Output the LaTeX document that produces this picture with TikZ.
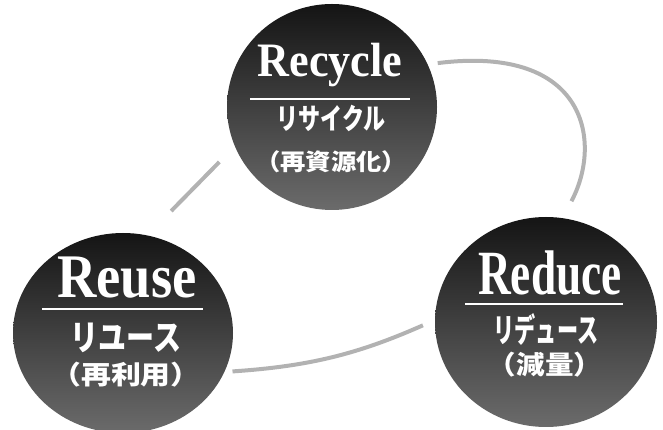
\documentclass[tikz,border=0pt]{standalone}
\usepackage{fontspec}
\setmainfont{Liberation Serif}
\newfontfamily\jpfont{Noto Sans CJK JP}
\usetikzlibrary{shapes.geometric}
\tikzstyle{ball} = [ellipse, draw=none, inner sep=0pt,
    top color=black!92, bottom color=black!58]
\tikzstyle{enword} = [text=white, inner sep=0pt, anchor=base]
\tikzstyle{jpword} = [text=white, inner sep=0pt, anchor=base, font=\jpfont\bfseries]
\tikzstyle{underbar} = [white, line width=1.6pt]
\tikzstyle{link} = [line width=4pt, draw=black!30]

\begin{document}
\begin{tikzpicture}[x=1pt, y=1pt]
    \useasboundingbox (0,0) rectangle (663,430);

    % the three balls
    \node (recycle) [ball, minimum width=210pt, minimum height=206pt] at (332,323) {};
    \node (reuse) [ball, minimum width=220pt, minimum height=200pt] at (123,97) {};
    \node (reduce) [ball, minimum width=222pt, minimum height=210pt] at (546,108) {};

    % links between them
    \draw [link, shorten <=22pt, shorten >=34pt] (recycle.202.6) -- (reuse.76.7);
    \draw [link, shorten <=10pt, shorten >=19pt] (recycle.24) .. controls +(160,20) and +(40,75) .. (reduce.81);
    \draw [link, shorten <=8pt, shorten >=13pt] (reuse.-21) to[bend right=10] (reduce.179);

    % recycle texts
    \node (recycleEn) [enword, font=\bfseries\fontsize{48}{48}\selectfont] at ([xshift=-2pt,yshift=30pt]recycle.center) {\scalebox{0.92}[1]{Recycle}};
    \draw [underbar] ([xshift=-82pt,yshift=8pt]recycle.center) -- ([xshift=78pt,yshift=8pt]recycle.center);
    \node (recycleJp) [jpword, font=\jpfont\bfseries\fontsize{29}{29}\selectfont] at ([xshift=-1pt,yshift=-23pt]recycle.center) {\scalebox{0.76}[1]{リサイクル}};
    \node (recycleKanji) [jpword, font=\jpfont\bfseries\fontsize{23}{23}\selectfont] at ([xshift=-1pt,yshift=-64pt]recycle.center) {\scalebox{1.1}[1]{（再資源化）}};

    % reuse texts
    \node (reuseEn) [enword, font=\bfseries\fontsize{62}{62}\selectfont] at ([xshift=4pt,yshift=35pt]reuse.center) {\scalebox{0.88}[1]{Reuse}};
    \draw [underbar] ([xshift=-81pt,yshift=24pt]reuse.center) -- ([xshift=80pt,yshift=24pt]reuse.center);
    \node (reuseJp) [jpword, font=\jpfont\bfseries\fontsize{35}{35}\selectfont] at ([xshift=3pt,yshift=-18pt]reuse.center) {\scalebox{0.8}[1]{リユース}};
    \node (reuseKanji) [jpword, font=\jpfont\bfseries\fontsize{26}{26}\selectfont] at ([xshift=3pt,yshift=-52pt]reuse.center) {\scalebox{1.15}[1]{（再利用）}};

    % reduce texts
    \node (reduceEn) [enword, font=\bfseries\fontsize{63}{63}\selectfont] at ([xshift=4pt,yshift=27pt]reduce.center) {\scalebox{0.72}[1]{Reduce}};
    \draw [underbar] ([xshift=-81pt,yshift=18pt]reduce.center) -- ([xshift=77pt,yshift=18pt]reduce.center);
    \node (reduceJp) [jpword, font=\jpfont\bfseries\fontsize{33}{33}\selectfont] at ([yshift=-21pt]reduce.center) {\scalebox{0.64}[1]{リデュース}};
    \node (reduceKanji) [jpword, font=\jpfont\bfseries\fontsize{26}{26}\selectfont] at ([xshift=-1pt,yshift=-53pt]reduce.center) {\scalebox{1.1}[1]{（減量）}};
\end{tikzpicture}
\end{document}
